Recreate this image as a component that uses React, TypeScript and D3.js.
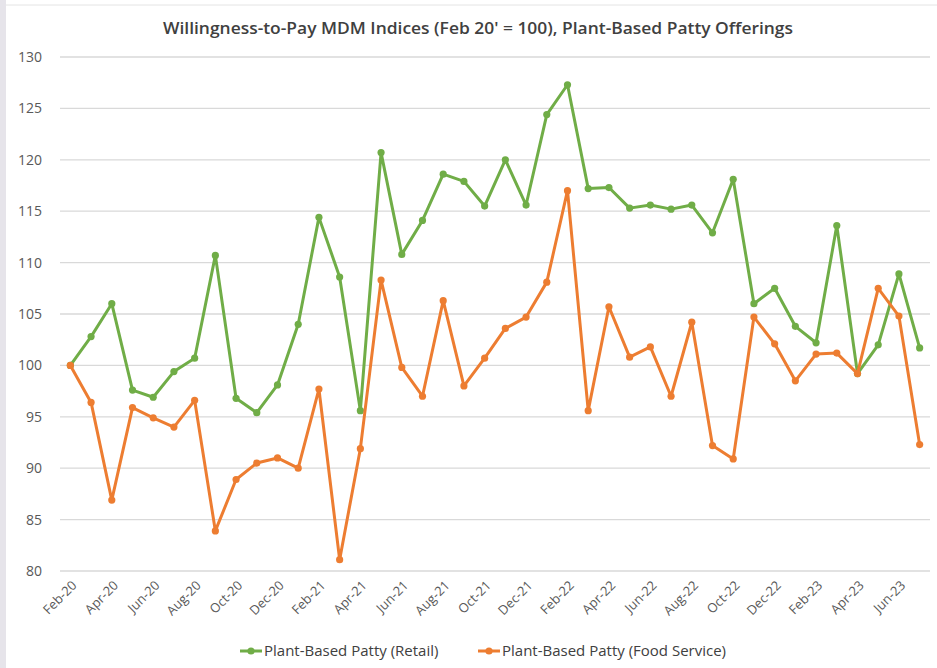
import * as React from 'react';
import {useEffect, useRef} from 'react';
import * as d3 from 'd3';

const months = [
    'Feb-20','Mar-20','Apr-20','May-20','Jun-20','Jul-20','Aug-20','Sep-20','Oct-20','Nov-20','Dec-20',
    'Jan-21','Feb-21','Mar-21','Apr-21','May-21','Jun-21','Jul-21','Aug-21','Sep-21','Oct-21','Nov-21','Dec-21',
    'Jan-22','Feb-22','Mar-22','Apr-22','May-22','Jun-22','Jul-22','Aug-22','Sep-22','Oct-22','Nov-22','Dec-22',
    'Jan-23','Feb-23','Mar-23','Apr-23','May-23','Jun-23','Jul-23'
];

const retail = [
    100, 102.8, 106, 97.6, 96.9, 99.4, 100.7, 110.7, 96.8, 95.4, 98.1,
    104, 114.4, 108.6, 95.6, 120.7, 110.8, 114.1, 118.6, 117.9, 115.5, 120, 115.6,
    124.4, 127.3, 117.2, 117.3, 115.3, 115.6, 115.2, 115.6, 112.9, 118.1, 106, 107.5,
    103.8, 102.2, 113.6, 99.2, 102, 108.9, 101.7
];

const foodService = [
    100, 96.4, 86.9, 95.9, 94.9, 94.0, 96.6, 83.9, 88.9, 90.5, 91.0,
    90.0, 97.7, 81.1, 91.9, 108.3, 99.8, 97.0, 106.3, 98.0, 100.7, 103.6, 104.7,
    108.1, 117.0, 95.6, 105.7, 100.8, 101.8, 97.0, 104.2, 92.2, 90.9, 104.7, 102.1,
    98.5, 101.1, 101.2, 99.2, 107.5, 104.8, 92.3
];

const yTicks = [80, 85, 90, 95, 100, 105, 110, 115, 120, 125, 130];

const seriesNames = ['Plant-Based Patty (Retail)', 'Plant-Based Patty (Food Service)'];
const seriesColors = ['#70AD47', '#ED7D31'];

const App = () => {
    const chartRef = useRef(null);
    const width = 937;
    const height = 668;

    useEffect(() => {
        const svg = d3.select(chartRef.current);
        svg.selectAll('*').remove();

        const font = "'Open Sans', sans-serif";

        svg.append('rect').attr('width', width).attr('height', height).attr('fill', '#ffffff');
        svg.append('rect').attr('x', 0).attr('y', 0).attr('width', 6).attr('height', height).attr('fill', '#e6e4ea');
        svg.append('line').attr('x1', 6).attr('x2', width).attr('y1', 5).attr('y2', 5)
            .attr('stroke', '#e4e4e4').attr('stroke-width', 1);

        const xScale = d3.scalePoint()
            .domain(months)
            .range([60, 930])
            .padding(0.5);

        const yScale = d3.scaleLinear()
            .domain([80, 130])
            .range([571, 57]);

        // gridlines
        svg.append('g')
            .selectAll('line')
            .data(yTicks)
            .enter()
            .append('line')
            .attr('x1', 60)
            .attr('x2', 930)
            .attr('y1', d => yScale(d))
            .attr('y2', d => yScale(d))
            .attr('stroke', '#d9d9d9')
            .attr('stroke-width', 1.3);

        // y labels
        svg.append('g')
            .selectAll('text')
            .data(yTicks)
            .enter()
            .append('text')
            .attr('x', 42)
            .attr('y', d => yScale(d))
            .attr('dy', '0.35em')
            .attr('text-anchor', 'end')
            .style('font-family', font)
            .style('font-size', '14px')
            .attr('fill', '#595959')
            .text(d => d);

        // x labels, every second month
        svg.append('g')
            .selectAll('text')
            .data(months.filter((m, i) => i % 2 === 0))
            .enter()
            .append('text')
            .attr('transform', d => `translate(${xScale(d) + 4}, ${583}) rotate(-45)`)
            .attr('text-anchor', 'end')
            .attr('dy', '0.35em')
            .style('font-family', font)
            .style('font-size', '13px')
            .attr('fill', '#595959')
            .text(d => d);

        const allSeries = [retail, foodService];

        allSeries.forEach((values, si) => {
            const line = d3.line()
                .x((d, i) => xScale(months[i]))
                .y(d => yScale(d));

            svg.append('path')
                .datum(values)
                .attr('d', line)
                .attr('fill', 'none')
                .attr('stroke', seriesColors[si])
                .attr('stroke-width', 3)
                .attr('stroke-linejoin', 'round');

            svg.append('g')
                .selectAll('circle')
                .data(values)
                .enter()
                .append('circle')
                .attr('cx', (d, i) => xScale(months[i]))
                .attr('cy', d => yScale(d))
                .attr('r', 3.6)
                .attr('fill', seriesColors[si]);
        });

        // title
        svg.append('text')
            .attr('x', 478)
            .attr('y', 28)
            .attr('text-anchor', 'middle')
            .attr('dy', '0.35em')
            .attr('textLength', 630)
            .attr('lengthAdjust', 'spacingAndGlyphs')
            .style('font-family', font)
            .style('font-size', '17px')
            .style('font-weight', 600)
            .attr('fill', '#404040')
            .text("Willingness-to-Pay MDM Indices (Feb 20' = 100), Plant-Based Patty Offerings");

        // legend
        const legendX = [240, 478];
        seriesNames.forEach((name, si) => {
            const g = svg.append('g').attr('transform', `translate(${legendX[si]}, 651)`);
            g.append('line').attr('x1', 0).attr('x2', 22).attr('y1', 0).attr('y2', 0)
                .attr('stroke', seriesColors[si]).attr('stroke-width', 3);
            g.append('circle').attr('cx', 11).attr('cy', 0).attr('r', 3.6).attr('fill', seriesColors[si]);
            g.append('text')
                .attr('x', 24)
                .attr('y', 0)
                .attr('dy', '0.35em')
                .style('font-family', font)
                .style('font-size', '15px')
                .attr('fill', '#404040')
                .text(name);
        });
    }, []);

    return (
        <div style={{position: 'absolute', left: 0, top: 0}}>
            <svg ref={chartRef} width={width} height={height}></svg>
        </div>
    );
};

export default App;
